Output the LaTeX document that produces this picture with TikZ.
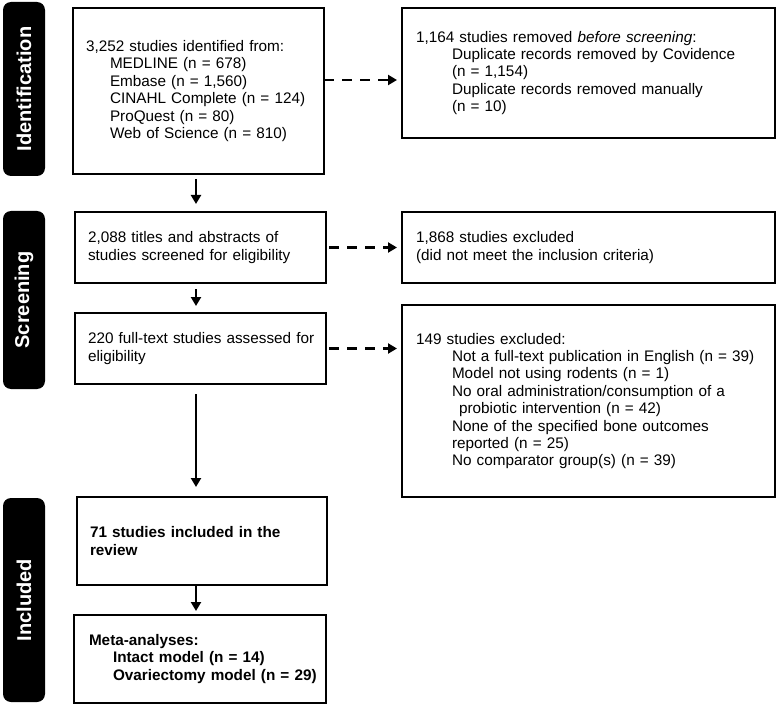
\documentclass[tikz,border=0pt]{standalone}
\usepackage{fontspec}
\setmainfont{Liberation Sans}
\usetikzlibrary{arrows.meta,calc}
\newcommand\myind{\hspace*{24pt}}
\newcommand\myindr{\hspace*{36pt}}
\begin{document}
\begin{tikzpicture}[x=1pt,y=-1pt,
  box/.style={draw=black, line width=2pt, inner sep=0pt, align=left,
    font=\fontsize{15.3}{17.4}\selectfont},
  bar/.style={fill=black, rounded corners=8pt, text=white, rotate=90, inner sep=0pt,
    font=\bfseries\fontsize{20}{24}\selectfont},
  arr/.style={line width=2.2pt, -{Triangle[length=9pt,width=10pt]}},
  darr/.style={line width=2.8pt, dash pattern=on 10pt off 8pt, -{Triangle[length=9pt,width=10pt]}},
]
\useasboundingbox (0,0) rectangle (777,706);

% phase bars
\node[bar, minimum width=174pt, minimum height=42pt] (pid) at (24,89) {Identification};
\node[bar, minimum width=178pt, minimum height=42pt] (psc) at (24,300) {Screening};
\node[bar, minimum width=204pt, minimum height=42pt] (pin) at (24,600) {Included};

% left boxes
\node[box, minimum width=251pt, minimum height=166pt, text width=225pt] (b1) at (198.5,91)
 {3,252 studies identified from:\\
  \myind MEDLINE (n = 678)\\
  \myind Embase (n = 1,560)\\
  \myind CINAHL Complete (n = 124)\\
  \myind ProQuest (n = 80)\\
  \myind Web of Science (n = 810)};
\node[box, minimum width=251pt, minimum height=71pt, text width=225pt] (b2) at (200.5,247.5)
 {2,088 titles and abstracts of\\ studies screened for eligibility};
\node[box, minimum width=251pt, minimum height=71pt, text width=225pt] (b3) at (200.5,348.5)
 {\mbox{220 full-text studies assessed for}\\ eligibility};
\node[box, minimum width=250pt, minimum height=88pt, text width=224pt, font=\bfseries\fontsize{15.3}{17.4}\selectfont] (b4) at (202,541)
 {71 studies included in the\\ review};
\node[box, minimum width=252pt, minimum height=88pt, text width=222pt, font=\bfseries\fontsize{15.3}{17.4}\selectfont] (b5) at (200,659)
 {Meta-analyses:\\
  \myind Intact model (n = 14)\\
  \myind\mbox{Ovariectomy model (n = 29)}};

% right boxes
\node[box, minimum width=373pt, minimum height=130pt, text width=345pt] (r1) at (588.5,73)
 {1,164 studies removed \textit{before screening}:\\
  \myindr Duplicate records removed by Covidence\\
  \myindr (n = 1,154)\\
  \myindr Duplicate records removed manually\\
  \myindr (n = 10)};
\node[box, minimum width=373pt, minimum height=71pt, text width=345pt] (r2) at (588.5,247.5)
 {1,868 studies excluded\\ (did not meet the inclusion criteria)};
\node[box, minimum width=373pt, minimum height=192pt, text width=345pt] (r3) at (588.5,401)
 {149 studies excluded:\\
  \myindr\mbox{Not a full-text publication in English (n = 39)}\\
  \myindr Model not using rodents (n = 1)\\
  \myindr No oral administration/consumption of a\\
  \myindr\hspace*{2pt} probiotic intervention (n = 42)\\
  \myindr None of the specified bone outcomes\\
  \myindr reported (n = 25)\\
  \myindr No comparator group(s) (n = 39)};

% vertical arrows
\coordinate (ax) at (196,0);
\draw[arr, shorten <=4pt, shorten >=7pt] (b1.south -| ax) -- (b2.north -| ax);
\draw[arr, shorten <=5pt, shorten >=6pt] (b2.south -| ax) -- (b3.north -| ax);
\draw[arr, shorten <=9pt, shorten >=9pt] (b3.south -| ax) -- (b4.north -| ax);
\draw[arr, shorten >=3pt] (b4.south -| ax) -- (b5.north -| ax);

% dashed arrows
\coordinate (d1) at (324,80);
\draw[darr, shorten >=4pt] (d1) -- (d1 -| r1.west);
\draw[darr, shorten <=2pt, shorten >=4pt] (b2.east) -- (r2.west);
\draw[darr, shorten <=2pt, shorten >=4pt] (b3.east) -- (b3.east -| r3.west);
\end{tikzpicture}
\end{document}
